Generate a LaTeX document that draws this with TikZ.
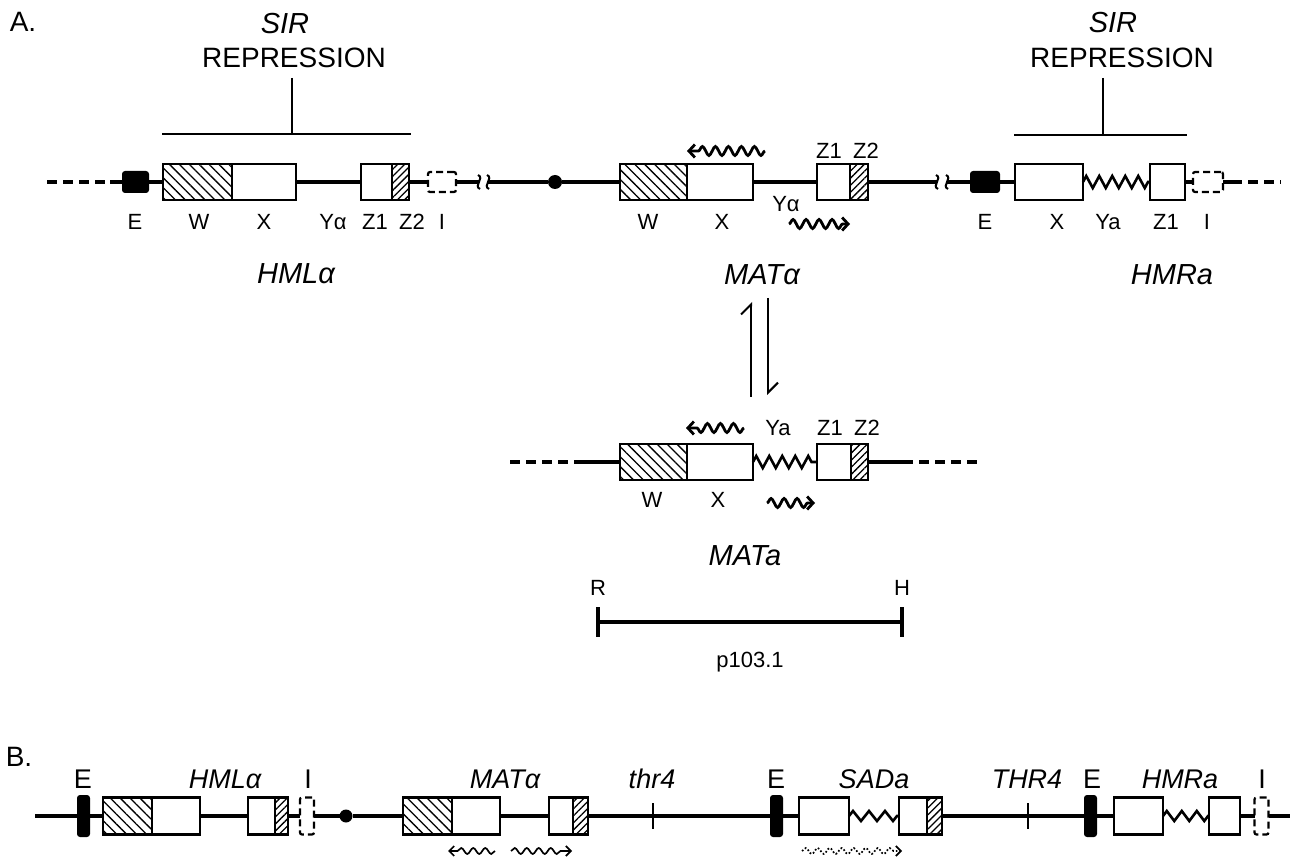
\documentclass[tikz,border=0pt]{standalone}
\usepackage{fontspec}
\setmainfont{Liberation Sans}
\usetikzlibrary{arrows.meta,positioning,patterns.meta,decorations.pathmorphing}

\begin{document}
\begin{tikzpicture}[x=1pt, y=1pt, node distance=0pt,
  every node/.style={inner sep=0pt, outer sep=0pt, font=\fontsize{22}{22}\selectfont},
  big/.style={font=\fontsize{28}{28}\selectfont},
  locus/.style={font=\fontsize{29}{29}\selectfont\itshape},
  blbl/.style={font=\fontsize{27}{27}\selectfont},
  blocus/.style={font=\fontsize{27}{27}\selectfont\itshape},
  dna/.style={line width=3.2pt},
  dnadash/.style={line width=3.2pt, dash pattern=on 10pt off 6pt},
  gene/.style={draw, line width=2.8pt, fill=white, minimum height=36pt},
  wgene/.style={gene, pattern={Lines[angle=-45,distance=7pt,line width=1.3pt]}},
  zgene/.style={gene, pattern={Lines[angle=45,distance=5pt,line width=1.3pt]}},
  ebox/.style={fill=black, rounded corners=3pt, minimum height=22pt},
  ibox/.style={draw, line width=2.2pt, dash pattern=on 7pt off 4pt, rounded corners=2pt, minimum height=20pt},
  zig/.style={line width=2.6pt, decorate, decoration={zigzag, amplitude=6pt, segment length=13pt}},
  wave/.style={line width=2.8pt, decorate, decoration={snake, amplitude=4.5pt, segment length=13pt, post length=6pt}, -{Straight Barb[length=6pt, width=13pt]}},
  bwave/.style={line width=1.7pt, decorate, decoration={snake, amplitude=3pt, segment length=12pt, post length=6pt}, -{Straight Barb[length=5pt, width=10pt]}},
  thinline/.style={line width=2pt},
  harp/.style={line width=2pt, -{Straight Barb[left, length=10pt, width=20pt]}},
  dot/.style={circle, fill=black, minimum size=14pt}
]
\useasboundingbox (0,0) rectangle (1291,-866);

% ---- A: the three loci
\node[big] (lblA) at (23,-22) {A.};

% HML alpha
\node[locus] (sirL) at (285,-24) {SIR};
\node[big] (repL) at (294,-58) {REPRESSION};
\coordinate (stemL) at (292,-78);
\coordinate (barLm) at (292,-134);
\coordinate (barL1) at (162,-134);
\coordinate (barL2) at (411,-134);
\draw[thinline] (stemL) -- (barLm);
\draw[thinline] (barL1) -- (barL2);

\coordinate (hl0) at (47,-182);
\coordinate (hl1) at (110,-182);
\node[ebox, minimum width=27pt] (hE) at (135.5,-182) {};
\node[wgene, minimum width=69pt, anchor=west] (hW) at (163,-182) {};
\node[gene, minimum width=64pt, right=of hW] (hX) {};
\node[gene, minimum width=31pt, anchor=west] (hZa) at (361,-182) {};
\node[zgene, minimum width=17pt, right=of hZa] (hZb) {};
\node[ibox, minimum width=28pt] (hI) at (442,-182) {};
\coordinate (brkA) at (479,-182);
\coordinate (brkB) at (488,-182);
\draw[dnadash] (hl0) -- (hl1);
\draw[dna] (hl1) -- (hE) -- (hW);
\draw[dna] (hX) -- (hZa);
\draw[dna] (hZb) -- (hI) -- (brkA);

\node (tE) at (135,-222) {E};
\node (tW) at (199,-222) {W};
\node (tX) at (264,-222) {X};
\node (tY) at (333,-222) {Yα};
\node (tZa) at (375,-222) {Z1};
\node (tZb) at (412,-222) {Z2};
\node (tI) at (442,-222) {I};
\node[locus] (nHML) at (296,-274) {HMLα};

% MAT alpha
\node[dot] (cen) at (555,-182) {};
\node[wgene, minimum width=67pt, anchor=west] (mW) at (620,-182) {};
\node[gene, minimum width=66pt, right=of mW] (mX) {};
\node[gene, minimum width=33pt, anchor=west] (mZa) at (817,-182) {};
\node[zgene, minimum width=18pt, right=of mZa] (mZb) {};
\coordinate (brkC) at (937,-182);
\coordinate (brkD) at (947,-182);
\draw[dna] (brkB) -- (cen) -- (mW);
\draw[dna] (mX) -- (mZa);
\draw[dna] (mZb) -- (brkC);

\coordinate (mw1a) at (765,-151);
\coordinate (mw1b) at (687,-151);
\coordinate (mw2a) at (789,-224);
\coordinate (mw2b) at (850,-224);
\draw[wave] (mw1a) -- (mw1b);
\draw[wave] (mw2a) -- (mw2b);
\node (mlZa) at (829,-151) {Z1};
\node (mlZb) at (866,-151) {Z2};
\node (mlW) at (648,-222) {W};
\node (mlX) at (722,-222) {X};
\node (mlY) at (786,-204) {Yα};
\node[locus] (nMATa) at (762,-275) {MATα};

% break marks
\foreach \bx in {479,488,937,947}
  \draw[thinline] (\bx-1,-175) .. controls (\bx+6,-178) and (\bx-6,-186) .. (\bx+1,-189);

% HMR a
\node[locus] (sirR) at (1113,-23) {SIR};
\node[big] (repR) at (1122,-58) {REPRESSION};
\coordinate (stemR) at (1103,-78);
\coordinate (barRm) at (1103,-135);
\coordinate (barR1) at (1014,-135);
\coordinate (barR2) at (1187,-135);
\draw[thinline] (stemR) -- (barRm);
\draw[thinline] (barR1) -- (barR2);

\node[ebox, minimum width=30pt] (rE) at (985,-182) {};
\node[gene, minimum width=68pt, anchor=west] (rX) at (1015,-182) {};
\node[gene, minimum width=35pt, anchor=west] (rZa) at (1150,-182) {};
\node[ibox, minimum width=30pt] (rI) at (1208,-182) {};
\coordinate (rl1) at (1232,-182);
\coordinate (rl2) at (1281,-182);
\draw[dna] (brkD) -- (rE) -- (rX);
\draw[zig] (rX) -- (rZa);
\draw[dna] (rZa) -- (rI) -- (rl1);
\draw[dnadash] (rl1) -- (rl2);

\node (rlE) at (985,-222) {E};
\node (rlX) at (1057,-222) {X};
\node (rlY) at (1108,-222) {Ya};
\node (rlZ) at (1166,-222) {Z1};
\node (rlI) at (1207,-222) {I};
\node[locus] (nHMR) at (1172,-275) {HMRa};

% switching
\coordinate (eqA1) at (751,-397);
\coordinate (eqA2) at (751,-302);
\coordinate (eqB1) at (768,-298);
\coordinate (eqB2) at (768,-395);
\draw[harp] (eqA1) -- (eqA2);
\draw[harp] (eqB1) -- (eqB2);

% MAT a
\coordinate (al0) at (510,-462);
\coordinate (al1) at (577,-462);
\node[wgene, minimum width=67pt, anchor=west] (aW) at (620,-462) {};
\node[gene, minimum width=66pt, right=of aW] (aX) {};
\node[gene, minimum width=34pt, anchor=west] (aZa) at (817,-462) {};
\node[zgene, minimum width=17pt, right=of aZa] (aZb) {};
\coordinate (ar1) at (903,-462);
\coordinate (ar2) at (977,-462);
\draw[dnadash] (al0) -- (al1);
\draw[dna] (al1) -- (aW);
\draw[zig] (aX) -- (aZa);
\draw[dna] (aZb) -- (ar1);
\draw[dnadash] (ar1) -- (ar2);

\coordinate (aw1a) at (744,-428);
\coordinate (aw1b) at (686,-428);
\coordinate (aw2a) at (767,-503);
\coordinate (aw2b) at (815,-503);
\draw[wave] (aw1a) -- (aw1b);
\draw[wave] (aw2a) -- (aw2b);
\node (alY) at (778,-428) {Ya};
\node (alZa) at (830,-428) {Z1};
\node (alZb) at (867,-428) {Z2};
\node (alW) at (652,-500) {W};
\node (alX) at (718,-500) {X};
\node[locus] (nMATb) at (745,-556) {MATa};

% probe
\node (pRl) at (598,-588) {R};
\node (pHl) at (902,-588) {H};
\coordinate (pR) at (598,-622);
\coordinate (pH) at (902,-622);
\draw[dna] (pR) -- (pH);
\draw[dna] (pR) +(0,15) -- +(0,-15);
\draw[dna] (pH) +(0,15) -- +(0,-15);
\node (probe) at (750,-662) {p103.1};

% ---- B: chromosome III
\node[big] (lblB) at (19,-757) {B.};
\coordinate (bl0) at (35,-816);
\node[ebox, minimum width=13pt, minimum height=42pt] (bE1) at (83.5,-816) {};
\node[wgene, minimum width=49pt, minimum height=37pt, anchor=west] (bW1) at (103,-816) {};
\node[gene, minimum width=48pt, minimum height=37pt, right=of bW1] (bX1) {};
\node[gene, minimum width=27pt, minimum height=37pt, anchor=west] (bZ1a) at (248,-816) {};
\node[zgene, minimum width=13pt, minimum height=37pt, right=of bZ1a] (bZ1b) {};
\node[ibox, minimum width=14pt, minimum height=37pt] (bI1) at (307,-816) {};
\node[dot, minimum size=13pt] (bdot) at (346,-816) {};
\node[wgene, minimum width=49pt, minimum height=37pt, anchor=west] (bW2) at (403,-816) {};
\node[gene, minimum width=48pt, minimum height=37pt, right=of bW2] (bX2) {};
\node[gene, minimum width=24pt, minimum height=37pt, anchor=west] (bZ2a) at (549,-816) {};
\node[zgene, minimum width=15pt, minimum height=37pt, right=of bZ2a] (bZ2b) {};
\coordinate (bt1) at (653,-816);
\node[ebox, minimum width=13pt, minimum height=42pt] (bE2) at (776.5,-816) {};
\node[gene, minimum width=50pt, minimum height=37pt, anchor=west] (bX3) at (799,-816) {};
\node[gene, minimum width=28pt, minimum height=37pt, anchor=west] (bZ3a) at (899,-816) {};
\node[zgene, minimum width=15pt, minimum height=37pt, right=of bZ3a] (bZ3b) {};
\coordinate (bt2) at (1028,-816);
\node[ebox, minimum width=13pt, minimum height=42pt] (bE3) at (1090.5,-816) {};
\node[gene, minimum width=49pt, minimum height=37pt, anchor=west] (bX4) at (1114,-816) {};
\node[gene, minimum width=31pt, minimum height=37pt, anchor=west] (bZ4a) at (1209,-816) {};
\node[ibox, minimum width=14pt, minimum height=37pt] (bI2) at (1261.5,-816) {};
\coordinate (bl1) at (1290,-816);

\draw[dna] (bl0) -- (bE1) -- (bW1);
\draw[dna] (bX1) -- (bZ1a);
\draw[dna] (bZ1b) -- (bI1) -- (bdot) -- (bW2);
\draw[dna] (bX2) -- (bZ2a);
\draw[dna] (bZ2b) -- (bt1) -- (bE2) -- (bX3);
\draw[zig, decoration={amplitude=5pt, segment length=16pt}] (bX3) -- (bZ3a);
\draw[dna] (bZ3b) -- (bt2) -- (bE3) -- (bX4);
\draw[zig, decoration={amplitude=5pt, segment length=15pt}] (bX4) -- (bZ4a);
\draw[dna] (bZ4a) -- (bI2) -- (bl1);
\draw[thinline] (bt1) +(0,13) -- +(0,-13);
\draw[thinline] (bt2) +(0,13) -- +(0,-13);

\coordinate (bw1a) at (495,-851);
\coordinate (bw1b) at (448,-851);
\coordinate (bw2a) at (511,-851);
\coordinate (bw2b) at (572,-851);
\coordinate (bw3a) at (802,-851);
\coordinate (bw3b) at (902,-851);
\draw[bwave] (bw1a) -- (bw1b);
\draw[bwave] (bw2a) -- (bw2b);
\draw[bwave, dotted] (bw3a) -- (bw3b);

\node[blbl] (bnE1) at (83,-779) {E};
\node[blocus] (bnHML) at (225,-779) {HMLα};
\node[blbl] (bnI1) at (308,-779) {I};
\node[blocus] (bnMAT) at (505,-779) {MATα};
\node[blocus] (bnthr) at (652,-779) {thr4};
\node[blbl] (bnE2) at (776,-779) {E};
\node[blocus] (bnSAD) at (874,-779) {SADa};
\node[blocus] (bnTHR) at (1027,-779) {THR4};
\node[blbl] (bnE3) at (1092,-779) {E};
\node[blocus] (bnHMR) at (1180,-779) {HMRa};
\node[blbl] (bnI2) at (1262,-779) {I};
\end{tikzpicture}
\end{document}
